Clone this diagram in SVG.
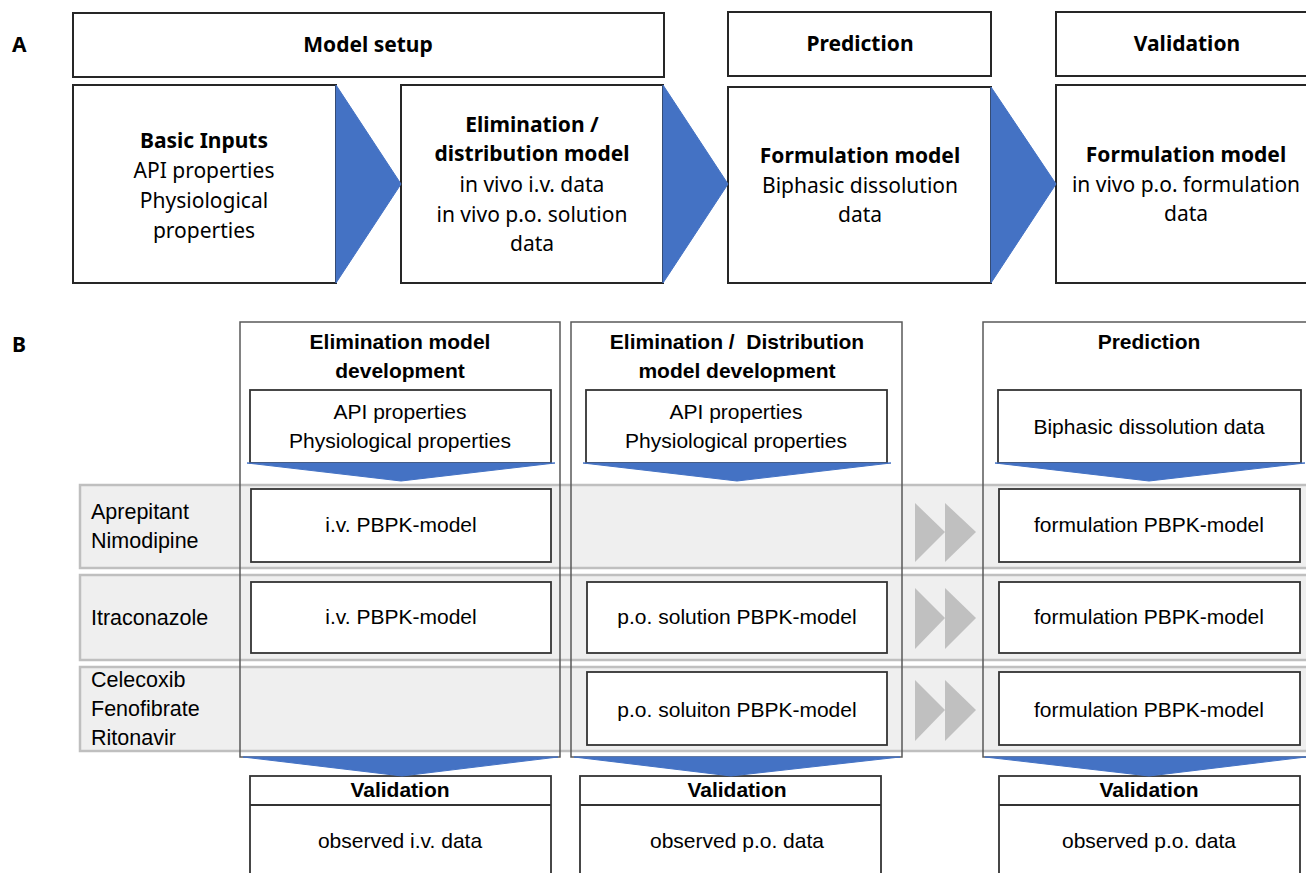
<svg xmlns="http://www.w3.org/2000/svg" width="1306" height="873" viewBox="0 0 1306 873">
<style>
.a{font-family:"Noto Sans","Open Sans",sans-serif;font-size:21px;fill:#000;text-anchor:middle}
.b{font-family:"Liberation Sans",Arial,sans-serif;font-size:21px;fill:#000;text-anchor:middle}
.lab{font-family:"Liberation Sans",Arial,sans-serif;font-size:21.5px;fill:#000}
.bold{font-weight:bold}
.boxA{fill:#fff;stroke:#262626;stroke-width:2}
.col{fill:none;stroke:#595959;stroke-width:1.5}
.colbg{fill:#fff;stroke:none}
.inner{fill:#fff;stroke:#333;stroke-width:1.8}
.row{fill:#efefef;stroke:#bfbfbf;stroke-width:2.5}
.blue{fill:#4472c4;stroke:#4472c4;stroke-width:1}
.gray{fill:#c0c0c0}
</style>
<rect width="1306" height="873" fill="#fff"/>
<text x="12" y="52" class="a bold" style="text-anchor:start">A</text>
<text x="12" y="352" class="a bold" style="text-anchor:start">B</text>

<!-- Part A -->
<g id="hdr-setup"><rect x="73" y="13" width="591" height="64" class="boxA"/><text x="368" y="52" class="a bold">Model setup</text></g>
<g id="hdr-prediction"><rect x="728" y="12" width="263" height="64" class="boxA"/><text x="860" y="51" class="a bold">Prediction</text></g>
<g id="hdr-validation"><rect x="1056" y="12" width="260" height="64" class="boxA"/><text x="1187" y="51" class="a bold">Validation</text></g>
<g id="basic-inputs"><rect x="73" y="85" width="263" height="198" class="boxA"/>
<text x="204" y="148" class="a bold">Basic Inputs</text>
<text x="204" y="178" class="a">API properties</text>
<text x="204" y="208" class="a">Physiological</text>
<text x="204" y="238" class="a">properties</text></g>
<g id="elim-dist"><rect x="401" y="85" width="262" height="198" class="boxA"/>
<text x="532" y="132" class="a bold">Elimination /</text>
<text x="532" y="161" class="a bold">distribution model</text>
<text x="532" y="192" class="a">in vivo i.v. data</text>
<text x="532" y="222" class="a">in vivo p.o. solution</text>
<text x="532" y="251" class="a">data</text></g>
<g id="formulation-pred"><rect x="728" y="87" width="263" height="196" class="boxA"/>
<text x="860" y="163" class="a bold">Formulation model</text>
<text x="860" y="193" class="a">Biphasic dissolution</text>
<text x="860" y="222" class="a">data</text></g>
<g id="formulation-val"><rect x="1056" y="85" width="260" height="198" class="boxA"/>
<text x="1186" y="162" class="a bold">Formulation model</text>
<text x="1186" y="192" class="a">in vivo p.o. formulation</text>
<text x="1186" y="221" class="a">data</text></g>

<!-- Part B columns background -->
<g id="columns-bg">
<rect x="240" y="322" width="320" height="435" class="colbg"/>
<rect x="571" y="322" width="331" height="435" class="colbg"/>
<rect x="983" y="322" width="330" height="435" class="colbg"/>
</g>
<g id="rows">
<rect x="80" y="485" width="1240" height="83" class="row"/>
<rect x="80" y="575" width="1240" height="85" class="row"/>
<rect x="80" y="667" width="1240" height="84" class="row"/>
</g>
<g id="columns">
<rect x="240" y="322" width="320" height="435" class="col"/>
<rect x="571" y="322" width="331" height="435" class="col"/>
<rect x="983" y="322" width="330" height="435" class="col"/>
<text x="400" y="349" class="b bold">Elimination model</text>
<text x="400" y="378" class="b bold">development</text>
<text x="737" y="349" class="b bold" xml:space="preserve">Elimination /  Distribution</text>
<text x="737" y="378" class="b bold">model development</text>
<text x="1149" y="349" class="b bold">Prediction</text>
</g>
<g id="inputs-1"><rect x="250" y="390" width="301" height="73" class="inner"/>
<text x="400" y="419" class="b">API properties</text><text x="400" y="448" class="b">Physiological properties</text></g>
<g id="inputs-2"><rect x="586" y="390" width="301" height="73" class="inner"/>
<text x="736" y="419" class="b">API properties</text><text x="736" y="448" class="b">Physiological properties</text></g>
<g id="inputs-3"><rect x="998" y="390" width="303" height="73" class="inner"/>
<text x="1149" y="434" class="b">Biphasic dissolution data</text></g>

<g id="row-labels">
<text x="91" y="519" class="lab">Aprepitant</text>
<text x="91" y="548" class="lab">Nimodipine</text>
<text x="91" y="625" class="lab">Itraconazole</text>
<text x="91" y="687" class="lab">Celecoxib</text>
<text x="91" y="716" class="lab">Fenofibrate</text>
<text x="91" y="745" class="lab">Ritonavir</text>
</g>
<g id="r1-iv"><rect x="251" y="489" width="300" height="73" class="inner"/><text x="401" y="532" class="b">i.v. PBPK-model</text></g>
<g id="r1-form"><rect x="999" y="489" width="301" height="73" class="inner"/><text x="1149" y="532" class="b">formulation PBPK-model</text></g>
<g id="r2-iv"><rect x="251" y="582" width="300" height="71" class="inner"/><text x="401" y="624" class="b">i.v. PBPK-model</text></g>
<g id="r2-po"><rect x="587" y="582" width="300" height="71" class="inner"/><text x="737" y="624" class="b">p.o. solution PBPK-model</text></g>
<g id="r2-form"><rect x="999" y="582" width="301" height="71" class="inner"/><text x="1149" y="624" class="b">formulation PBPK-model</text></g>
<g id="r3-po"><rect x="587" y="672" width="300" height="73" class="inner"/><text x="737" y="717" class="b">p.o. soluiton PBPK-model</text></g>
<g id="r3-form"><rect x="999" y="672" width="301" height="73" class="inner"/><text x="1149" y="717" class="b">formulation PBPK-model</text></g>

<g id="val-1"><rect x="250" y="776" width="301" height="110" class="inner"/><line x1="250" y1="805" x2="551" y2="805" stroke="#333" stroke-width="1.8"/>
<text x="400" y="797" class="b bold">Validation</text><text x="400" y="848" class="b">observed i.v. data</text></g>
<g id="val-2"><rect x="580" y="776" width="301" height="110" class="inner"/><line x1="580" y1="805" x2="881" y2="805" stroke="#333" stroke-width="1.8"/>
<text x="737" y="797" class="b bold">Validation</text><text x="737" y="848" class="b">observed p.o. data</text></g>
<g id="val-3"><rect x="999" y="776" width="301" height="110" class="inner"/><line x1="999" y1="805" x2="1300" y2="805" stroke="#333" stroke-width="1.8"/>
<text x="1149" y="797" class="b bold">Validation</text><text x="1149" y="848" class="b">observed p.o. data</text></g>

<g id="connectors">
<polygon points="336,85 401,184 336,283" class="blue"/>
<polygon points="663,85 728,184 663,283" class="blue"/>
<polygon points="991,87 1056,184 991,283" class="blue"/>
<polygon points="247,463 555,463 401,481" class="blue"/>
<polygon points="583,463 891,463 737,481" class="blue"/>
<polygon points="995,463 1305,463 1149,481" class="blue"/>
<polygon points="243,757 558,757 402,776" class="blue"/>
<polygon points="574,757 900,757 731,776" class="blue"/>
<polygon points="985,757 1306,757 1149,776" class="blue"/>
<polygon points="915,503 945,532 915,562" class="gray"/>
<polygon points="945,503 976,532 945,562" class="gray"/>
<polygon points="915,588 945,618 915,649" class="gray"/>
<polygon points="945,588 976,618 945,649" class="gray"/>
<polygon points="915,680 945,710 915,741" class="gray"/>
<polygon points="945,680 976,710 945,741" class="gray"/>
</g>
</svg>
